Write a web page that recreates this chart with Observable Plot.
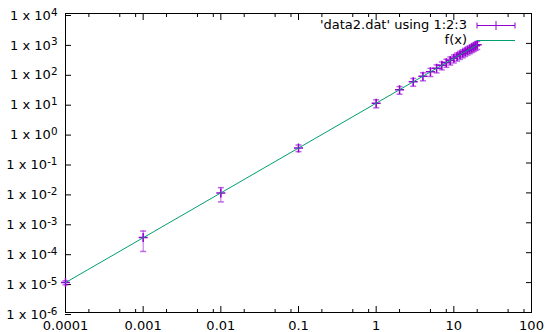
<!DOCTYPE html>
<html>
<head>
<meta charset="utf-8">
<script src="https://cdn.jsdelivr.net/npm/d3@7"></script>
<script src="https://cdn.jsdelivr.net/npm/@observablehq/plot@0.6"></script>
<style>
  html, body { margin: 0; padding: 0; background: #fff; }
  #chart svg { display: block; }
</style>
</head>
<body>
<div id="chart"></div>
<script>
// Measurements from data2.dat: x, y and the y uncertainty (column 3)
const xValues = [0.0001, 0.001, 0.01, 0.1, 1, 2, 3, 4, 5, 6, 7, 8, 9, 10, 11, 12, 13, 14, 15, 16, 17, 18, 19, 20];
const yValues = [1e-5, 3.2e-4, 0.01, 0.32, 10, 28, 52, 80, 112, 147, 185, 226, 270, 316, 365, 416, 469, 524, 581, 640, 701, 764, 828, 894];
const yErrors = [1.5e-6, 2.1e-4, 5e-3, 0.08, 3, 8, 15, 24, 34, 44, 55, 68, 81, 95, 110, 125, 140, 157, 174, 192, 210, 229, 248, 268];

// Fitted curve f(x), straight in log-log space
const fitX = [0.0001, 20];
const fitY = [1e-5, 894];

// Axis ticks
const xMajorTicks = [0.0001, 0.001, 0.01, 0.1, 1, 10, 100];
const xTickLabels = ["0.0001", "0.001", "0.01", "0.1", "1", "10", "100"];
const xMinorTicks = [0.0002, 0.0005, 0.0008, 0.002, 0.005, 0.008, 0.02, 0.05, 0.08,
                     0.2, 0.5, 0.8, 2, 5, 8, 20, 50, 80];
const yTickExponents = [-6, -5, -4, -3, -2, -1, 0, 1, 2, 3, 4];
const yMajorTicks = yTickExponents.map(e => Math.pow(10, e));

const legendLabels = ["'data2.dat' using 1:2:3", "f(x)"];

const purple = "#9400d3";
const green = "#009e73";

const points = xValues.map((x, i) => ({x, y: yValues[i], err: yErrors[i]}));
const fit = fitX.map((x, i) => ({x, y: fitY[i]}));

// "+" point symbol and flat error-bar cap drawn as strokes
const plusSymbol = {
  draw(ctx, size) {
    const r = Math.sqrt(size / Math.PI);
    ctx.moveTo(-r, 0); ctx.lineTo(r, 0);
    ctx.moveTo(0, -r); ctx.lineTo(0, r);
  }
};
const capSymbol = {
  draw(ctx, size) {
    const r = Math.sqrt(size / Math.PI);
    ctx.moveTo(-r, 0); ctx.lineTo(r, 0);
  }
};

const xLabelOf = v => xTickLabels[xMajorTicks.indexOf(v)];
const yLabelOf = v => "1 x 10^" + yTickExponents[yMajorTicks.indexOf(v)];

const plot = Plot.plot({
  width: 547,
  height: 332,
  marginLeft: 65,
  marginRight: 16,
  marginTop: 13,
  marginBottom: 20,
  style: {fontFamily: "DejaVu Sans", fontSize: "13px", color: "#000", background: "#fff"},
  x: {type: "log", domain: [1e-4, 100], label: null},
  y: {type: "log", domain: [1e-6, 1e4], label: null},
  marks: [
    // major ticks pointing inward on all four sides
    Plot.axisX(xMajorTicks, {anchor: "bottom", tickSize: -6, tickPadding: 14.5, tickFormat: xLabelOf, label: null}),
    Plot.axisX(xMajorTicks, {anchor: "top", tickSize: -6, fill: "none", label: null}),
    Plot.axisX(xMinorTicks, {anchor: "bottom", tickSize: -3, fill: "none", label: null}),
    Plot.axisX(xMinorTicks, {anchor: "top", tickSize: -3, fill: "none", label: null}),
    Plot.axisY(yMajorTicks, {anchor: "left", tickSize: -6, tickPadding: 14, dy: 2, tickFormat: yLabelOf, label: null}),
    Plot.axisY(yMajorTicks, {anchor: "right", tickSize: -6, fill: "none", label: null}),
    Plot.frame({stroke: "#000"}),
    // error bars with caps
    Plot.ruleX(points, {x: "x", y1: d => d.y - d.err, y2: d => d.y + d.err, stroke: purple, strokeOpacity: 0.6}),
    Plot.dot(points, {x: "x", y: d => d.y - d.err, symbol: capSymbol, r: 3, stroke: purple, strokeOpacity: 0.6, fill: "none"}),
    Plot.dot(points, {x: "x", y: d => d.y + d.err, symbol: capSymbol, r: 3, stroke: purple, strokeOpacity: 0.6, fill: "none"}),
    Plot.dot(points, {x: "x", y: "y", symbol: plusSymbol, r: 4.5, stroke: purple, fill: "none"}),
    // fitted function
    Plot.line(fit, {x: "x", y: "y", stroke: green, strokeWidth: 1})
  ]
});

document.getElementById("chart").append(plot);

// Superscript exponents on the y tick labels
d3.select(plot).selectAll('g[aria-label="y-axis tick label"] text').each(function () {
  const parts = this.textContent.split("^");
  if (parts.length !== 2) return;
  this.textContent = parts[0];
  d3.select(this).append("tspan").attr("dy", "-0.4em").attr("font-size", "0.8em").text(parts[1]);
});

// Key in the top-right corner of the frame
const [xl, xr] = plot.scale("x").range;
const [yb, yt] = plot.scale("y").range;
const svg = d3.select(plot);
const key = svg.append("g").attr("font-family", "DejaVu Sans").attr("font-size", 13);
const rows = [yt + 12, yt + 27];
const textX = xr - 64, s0 = xr - 54, s1 = xr - 16, sm = (s0 + s1) / 2;
legendLabels.forEach((label, i) => {
  key.append("text").attr("x", textX).attr("y", rows[i]).attr("dy", "0.32em")
    .attr("text-anchor", "end").attr("fill", "#000").text(label);
});
// sample for the data with error bars
const r0 = rows[0] + 0.5;
key.append("path").attr("fill", "none").attr("stroke", purple)
  .attr("d", `M${s0},${r0}H${s1}M${s0},${r0 - 3}V${r0 + 3}M${s1},${r0 - 3}V${r0 + 3}M${sm - 4.5},${r0}H${sm + 4.5}M${sm},${r0 - 4.5}V${r0 + 4.5}`);
// sample for f(x)
const r1 = rows[1] + 0.5;
key.append("path").attr("fill", "none").attr("stroke", green).attr("d", `M${s0},${r1}H${s1}`);
</script>
</body>
</html>
